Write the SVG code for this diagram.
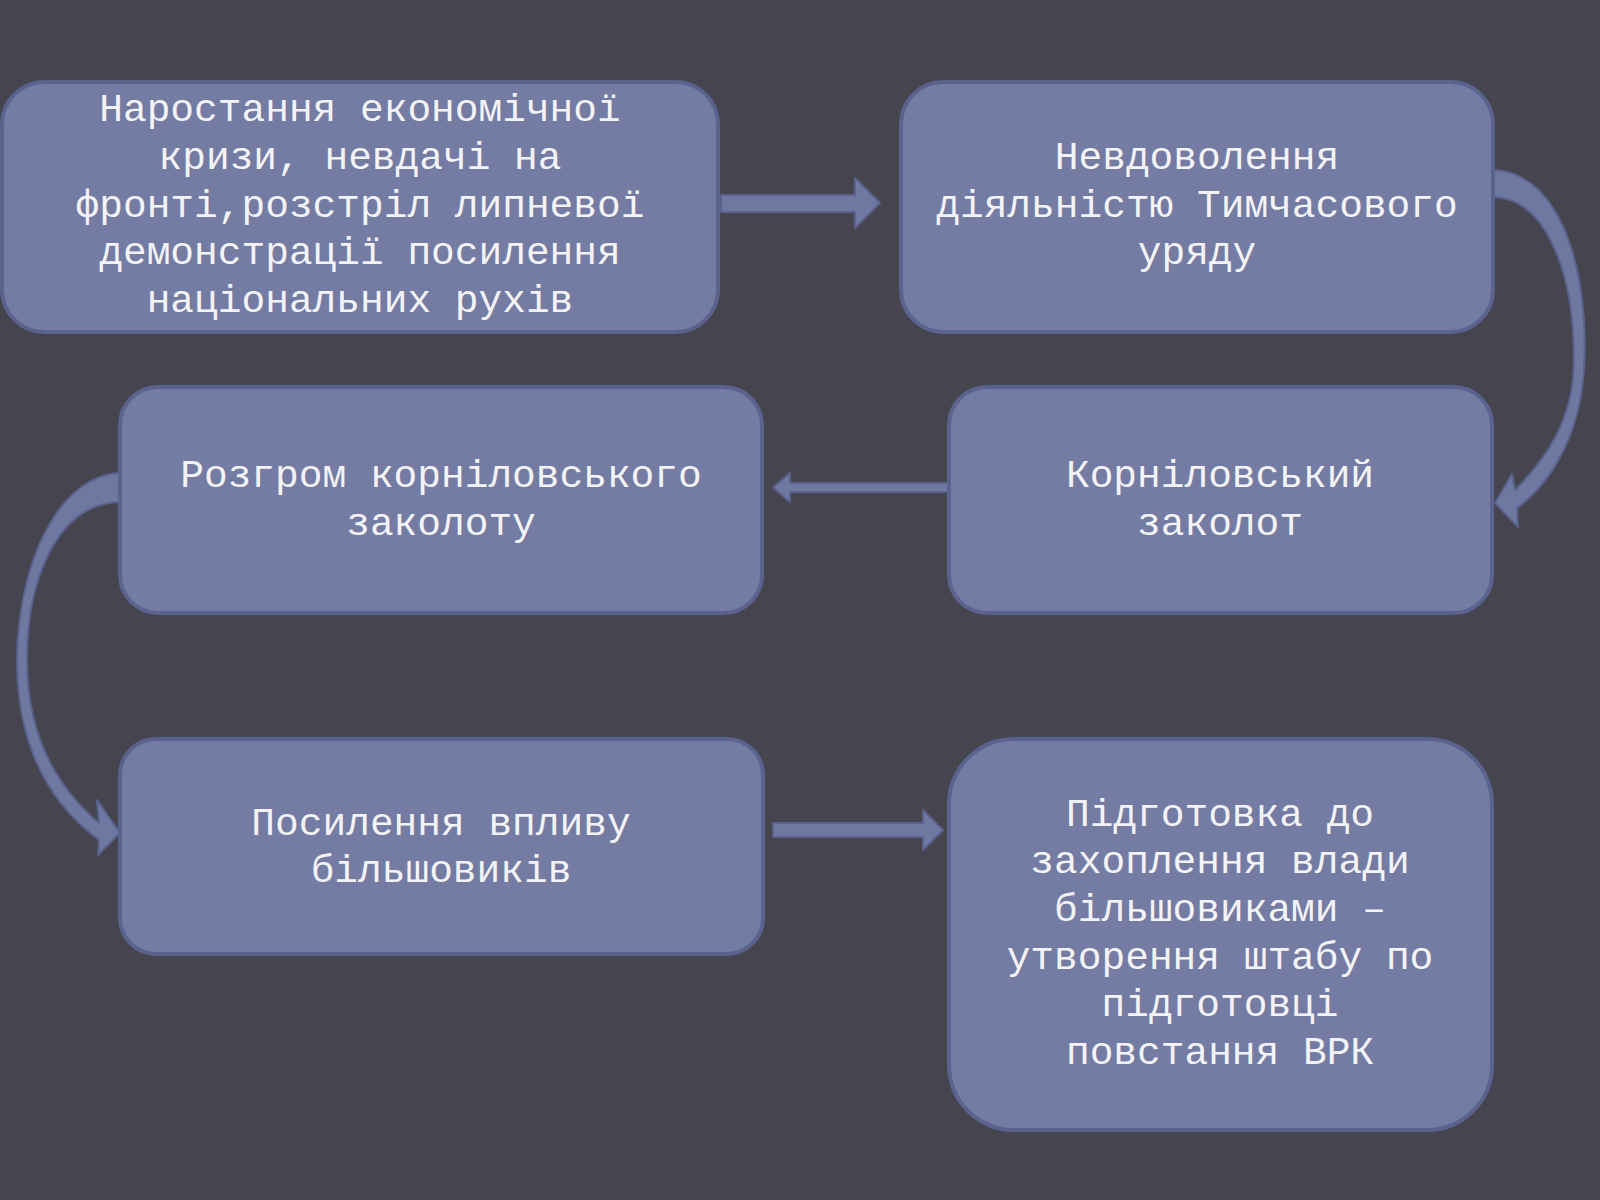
<svg xmlns="http://www.w3.org/2000/svg" width="1600" height="1200" viewBox="0 0 1600 1200">
<style>
.box{fill:#747CA3;stroke:#5A628E;stroke-width:4}
.arr{fill:#6F78A0;stroke:#5A628E;stroke-width:2;stroke-linejoin:round}
.t{font-family:"Liberation Mono","Courier New","DejaVu Sans Mono",monospace;font-size:39.5px;fill:#F3F3F6;text-anchor:middle}
</style>
<rect x="0" y="0" width="1600" height="1200" fill="#45444F"/>
<g id="connectors">
<polygon class="arr" points="721,195 855,195 855,178 880,203 855,228 855,212 721,212"/>
<polygon class="arr" points="948,483 790,483 790,473 773,487.5 790,502 790,492 948,492"/>
<polygon class="arr" points="773,823 923,823 923,810 943,830 923,850 923,837 773,837"/>
<path class="arr" d="M1493,170 C1560,172 1590,270 1584,370 C1580,430 1555,480 1517,508 L1518,527 L1495,503 L1512,474 L1515,490 C1545,460 1574,420 1574,360 C1574,270 1545,198 1493,197 Z"/>
<path class="arr" d="M120,473 C60,475 18,560 17,660 C17,740 45,800 99,840 L98,855 L120,833 L97,800 L99,823 C60,790 27,740 27,660 C27,575 60,503 120,502 Z"/>
</g>
<g id="n1">
<rect class="box" x="2" y="82" width="716" height="250" rx="42"/>
<text class="t" x="360" y="121">Наростання економічної</text>
<text class="t" x="360" y="169">кризи, невдачі на</text>
<text class="t" x="360" y="217">фронті,розстріл липневої</text>
<text class="t" x="360" y="264">демонстрації посилення</text>
<text class="t" x="360" y="312">національних рухів</text>
</g>
<g id="n2">
<rect class="box" x="901" y="82" width="592" height="250" rx="42"/>
<text class="t" x="1197" y="169">Невдоволення</text>
<text class="t" x="1197" y="217">діяльністю Тимчасового</text>
<text class="t" x="1197" y="264">уряду</text>
</g>
<g id="n3">
<rect class="box" x="120" y="387" width="642" height="226" rx="38"/>
<text class="t" x="441" y="487">Розгром корніловського</text>
<text class="t" x="441" y="535">заколоту</text>
</g>
<g id="n4">
<rect class="box" x="949" y="387" width="543" height="226" rx="38"/>
<text class="t" x="1220" y="487">Корніловський</text>
<text class="t" x="1220" y="535">заколот</text>
</g>
<g id="n5">
<rect class="box" x="120" y="739" width="643" height="215" rx="36"/>
<text class="t" x="441" y="835">Посилення впливу</text>
<text class="t" x="441" y="882">більшовиків</text>
</g>
<g id="n6">
<rect class="box" x="949" y="739" width="543" height="391" rx="65"/>
<text class="t" x="1220" y="826">Підготовка до</text>
<text class="t" x="1220" y="873">захоплення влади</text>
<text class="t" x="1220" y="921">більшовиками –</text>
<text class="t" x="1220" y="969">утворення штабу по</text>
<text class="t" x="1220" y="1016">підготовці</text>
<text class="t" x="1220" y="1064">повстання ВРК</text>
</g>
</svg>
